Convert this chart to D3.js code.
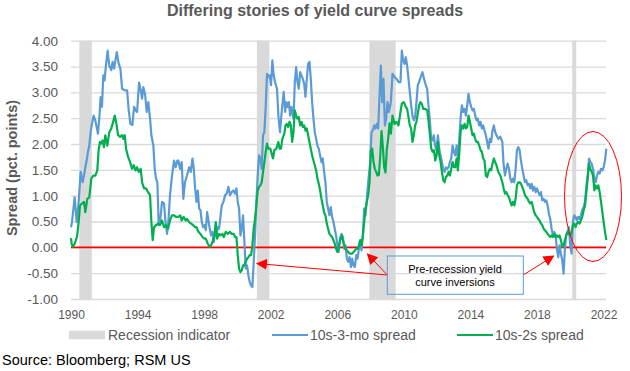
<!DOCTYPE html>
<html>
<head>
<meta charset="utf-8">
<script src="https://cdn.jsdelivr.net/npm/d3@7"></script>
<style>
  body { margin: 0; background: #fff; }
  svg { font-family: "Liberation Sans", Arial, sans-serif; }
</style>
</head>
<body>
<div id="chart"></div>
<script>
const svgWidth = 630,
      svgHeight = 371,
      margin = {top: 40.7, left: 71, bottom: 72, right: 24};

// year ticks and value ticks
const yearTicks = [1990, 1994, 1998, 2002, 2006, 2010, 2014, 2018, 2022];
const valueTicks = [-1, -0.5, 0, 0.5, 1, 1.5, 2, 2.5, 3, 3.5, 4];

// recessions (start, end as decimal years)
const recStart = [1990.5, 2001.17, 2007.93, 2020.12];
const recEnd   = [1991.25, 2001.92, 2009.51, 2020.36];

// 10s-3-mo spread (blue)
const blueT = [1990.0,1990.06,1990.22,1990.34,1990.46,1990.58,1990.7,1990.78,1990.86,1990.94,1991.02,1991.1,1991.18,1991.26,1991.36,1991.46,1991.54,1991.62,1991.7,1991.78,1991.86,1991.94,1992.02,1992.08,1992.2,1992.3,1992.42,1992.5,1992.59,1992.75,1992.87,1992.97,1993.07,1993.23,1993.37,1993.47,1993.57,1993.69,1993.79,1993.89,1993.97,1994.09,1994.19,1994.27,1994.35,1994.45,1994.55,1994.65,1994.75,1994.83,1994.95,1995.03,1995.11,1995.19,1995.27,1995.35,1995.47,1995.59,1995.67,1995.77,1995.85,1995.95,1996.07,1996.19,1996.29,1996.39,
  1996.45,1996.55,1996.65,1996.75,1996.85,1996.97,1997.1,1997.2,1997.3,1997.38,1997.46,1997.54,1997.62,1997.7,1997.78,1997.86,1997.94,1998.02,1998.1,1998.18,1998.26,1998.34,1998.42,1998.5,1998.58,1998.66,1998.74,1998.82,1998.9,1998.98,1999.06,1999.16,1999.26,1999.36,1999.46,1999.56,1999.66,1999.76,1999.86,1999.94,2000.02,2000.1,2000.18,2000.26,2000.34,2000.42,2000.5,2000.58,2000.66,2000.74,2000.82,2000.9,2000.98,2001.06,2001.14,2001.22,2001.3,2001.38,2001.46,2001.54,2001.62,2001.7,2001.78,2001.86,2001.94,2002.02,2002.1,2002.18,2002.26,2002.38,2002.46,2002.56,2002.66,2002.78,
  2002.87,2002.93,2003.01,2003.09,2003.17,2003.25,2003.37,2003.45,2003.53,2003.61,2003.69,2003.77,2003.85,2003.93,2004.01,2004.09,2004.17,2004.25,2004.33,2004.41,2004.49,2004.57,2004.65,2004.73,2004.81,2004.89,2004.97,2005.05,2005.13,2005.21,2005.29,2005.37,2005.45,2005.53,2005.61,2005.69,2005.77,2005.85,2005.93,2006.01,2006.09,2006.17,2006.26,2006.34,2006.42,2006.5,2006.58,2006.66,2006.74,2006.82,2006.9,2006.98,2007.06,2007.14,2007.22,2007.3,2007.38,2007.46,2007.54,2007.62,2007.7,2007.78,2007.86,2007.98,2008.06,2008.14,2008.22,2008.3,2008.38,2008.46,2008.54,2008.62,2008.7,2008.78,2008.86,2008.94,2009.02,2009.1,
  2009.22,2009.32,2009.44,2009.56,2009.68,2009.8,2009.88,2009.96,2010.04,2010.12,2010.2,2010.28,2010.36,2010.44,2010.52,2010.6,2010.68,2010.76,2010.84,2010.92,2011.02,2011.12,2011.22,2011.32,2011.4,2011.48,2011.56,2011.64,2011.72,2011.8,2011.88,2011.96,2012.05,2012.13,2012.21,2012.29,2012.37,2012.45,2012.53,2012.61,2012.69,2012.77,2012.85,2012.93,2013.01,2013.09,2013.17,2013.25,2013.33,2013.41,2013.49,2013.57,2013.65,2013.73,2013.81,2013.89,2013.97,2014.05,2014.13,2014.21,2014.29,2014.37,2014.45,2014.53,2014.61,2014.69,2014.77,2014.85,2014.93,2015.01,2015.09,2015.17,2015.25,2015.33,2015.41,2015.49,2015.57,2015.68,
  2015.8,2015.92,2016.0,2016.08,2016.16,2016.24,2016.32,2016.4,2016.48,2016.56,2016.64,2016.72,2016.8,2016.88,2016.96,2017.04,2017.12,2017.2,2017.28,2017.36,2017.44,2017.52,2017.6,2017.68,2017.76,2017.84,2017.92,2018.0,2018.08,2018.16,2018.24,2018.32,2018.4,2018.48,2018.56,2018.64,2018.72,2018.8,2018.88,2018.96,2019.04,2019.12,2019.2,2019.28,2019.36,2019.44,2019.52,2019.6,2019.68,2019.76,2019.84,2019.92,2020.0,2020.08,2020.16,2020.24,2020.32,2020.4,2020.48,2020.56,2020.64,2020.72,2020.81,2020.89,2020.97,2021.05,2021.13,2021.21,2021.29,2021.37,2021.45,2021.53,2021.61,2021.69,2021.77,2021.85,2021.93,2022.01,2022.09,2022.17];
const blueV = [0.39,0.49,0.97,0.49,0.88,1.46,1.26,1.39,1.55,1.68,1.85,1.97,2.23,2.39,2.55,2.46,2.33,2.2,2.49,2.91,2.72,3.33,3.23,3.46,3.81,3.52,3.43,3.59,3.46,3.78,3.55,3.46,3.07,3.04,3.04,2.65,2.39,2.37,2.72,2.65,2.62,3.19,3.04,2.88,3.1,2.97,2.62,2.81,2.49,2.17,1.97,1.52,1.33,1.26,0.43,0.49,0.88,0.85,0.52,0.26,0.49,1.01,1.39,1.68,1.55,1.68,
  1.68,1.52,1.65,0.94,1.26,1.39,1.55,1.46,1.72,1.52,1.14,0.88,1.1,0.75,0.72,0.49,0.39,0.43,0.33,0.68,0.52,0.36,0.23,0.3,0.1,0.3,0.23,0.39,0.36,0.59,0.81,0.88,1.01,1.04,1.17,1.01,1.07,1.1,1.04,1.14,0.88,0.75,0.23,0.36,0.62,0.1,-0.41,-0.35,-0.54,-0.67,-0.74,-0.77,-0.28,0.23,0.88,1.39,1.78,1.72,1.52,2.17,2.23,2.72,3.36,3.3,3.33,3.14,3.62,3.33,3.2,3.07,2.55,2.23,2.62,3.01,
  2.62,2.81,2.72,2.81,2.55,2.72,2.49,3.2,3.49,3.2,3.07,3.39,3.33,3.26,3.17,2.91,3.26,3.55,3.59,3.26,2.81,2.49,2.23,2.1,1.97,1.91,1.78,1.65,1.72,1.46,1.26,0.88,0.75,0.62,0.78,0.59,0.49,0.36,0.23,0.04,-0.09,0.17,0.26,0.2,-0.03,0.04,-0.22,-0.28,-0.19,-0.38,-0.22,-0.35,-0.38,-0.15,-0.22,-0.03,0.1,-0.06,0.23,0.75,0.62,0.94,1.26,1.65,2.23,2.26,2.36,2.3,2.39,2.3,2.94,3.52,2.81,3.26,2.36,2.49,2.81,2.62,
  2.81,3.36,3.3,3.26,3.2,3.2,3.81,3.62,3.55,3.68,3.52,3.26,3.01,2.75,2.55,2.46,2.52,2.81,3.14,3.2,3.3,3.39,3.26,3.14,3.07,2.75,2.49,2.1,2.07,2.17,1.97,1.88,2.17,1.91,1.78,1.65,1.52,1.46,1.55,1.52,1.55,1.65,1.72,1.97,1.85,1.78,1.97,1.72,2.1,2.49,2.75,2.62,2.68,2.55,2.75,2.97,2.81,2.72,2.65,2.68,2.55,2.46,2.49,2.36,2.43,2.3,2.36,2.26,2.17,2.04,1.91,2.1,2.04,2.26,2.36,2.23,2.17,2.1,
  2.14,2.04,1.59,1.39,1.52,1.62,1.52,1.33,1.26,1.33,1.26,1.52,1.88,1.94,1.88,1.68,1.52,1.39,1.26,1.3,1.2,1.23,1.14,1.23,1.1,1.17,1.07,1.14,1.07,1.01,1.07,0.91,0.94,0.88,0.91,0.81,0.65,0.55,0.36,0.23,0.3,0.23,-0.03,-0.19,0.04,-0.12,-0.25,-0.51,-0.03,0.23,0.3,0.39,0.04,-0.12,0.49,0.62,0.59,0.52,0.59,0.55,0.62,0.72,0.78,0.88,1.2,1.39,1.72,1.65,1.62,1.52,1.33,1.26,1.39,1.46,1.43,1.52,1.49,1.55,1.68,1.91];

// 10s-2s spread (green)
const greenT = [1990.0,1990.04,1990.12,1990.22,1990.36,1990.46,1990.54,1990.66,1990.78,1990.86,1990.98,1991.1,1991.22,1991.34,1991.46,1991.58,1991.66,1991.74,1991.82,1991.9,1991.98,1992.06,1992.18,1992.3,1992.42,1992.5,1992.63,1992.73,1992.83,1992.95,1993.07,1993.15,1993.23,1993.31,1993.43,1993.55,1993.67,1993.77,1993.87,1993.97,1994.07,1994.19,1994.27,1994.39,1994.51,1994.63,1994.75,1994.83,1994.91,1994.99,1995.11,1995.23,1995.35,1995.47,1995.59,1995.71,1995.83,1995.95,1996.07,1996.19,1996.31,
  1996.45,1996.57,1996.65,1996.77,1996.89,1996.97,1997.1,1997.22,1997.34,1997.46,1997.54,1997.66,1997.78,1997.9,1998.02,1998.1,1998.22,1998.34,1998.42,1998.54,1998.62,1998.7,1998.78,1998.9,1998.98,1999.1,1999.18,1999.3,1999.42,1999.54,1999.66,1999.78,1999.86,1999.94,2000.02,2000.1,2000.18,2000.26,2000.34,2000.42,2000.5,2000.58,2000.66,2000.74,2000.82,2000.9,2000.98,2001.06,2001.14,2001.22,2001.3,2001.38,2001.46,2001.54,2001.62,2001.7,2001.78,2001.86,2001.98,2002.06,2002.14,2002.22,2002.34,2002.46,2002.54,2002.62,2002.7,2002.82,2002.89,
  2002.97,2003.05,2003.13,2003.21,2003.29,2003.37,2003.45,2003.53,2003.61,2003.69,2003.77,2003.85,2003.93,2004.01,2004.09,2004.17,2004.25,2004.33,2004.41,2004.49,2004.57,2004.65,2004.73,2004.81,2004.89,2004.97,2005.05,2005.13,2005.21,2005.29,2005.37,2005.45,2005.53,2005.61,2005.69,2005.77,2005.85,2005.93,2006.01,2006.09,2006.17,2006.26,2006.34,2006.42,2006.5,2006.58,2006.66,2006.74,2006.82,2006.9,2006.98,2007.06,2007.14,2007.22,2007.3,2007.38,2007.46,2007.54,2007.62,2007.7,2007.78,2007.86,2007.94,2008.02,2008.1,2008.18,2008.26,2008.34,2008.42,2008.5,2008.58,2008.66,2008.74,2008.82,2008.9,2008.98,2009.06,2009.14,2009.22,2009.32,
  2009.44,2009.56,2009.68,2009.8,2009.88,2010.0,2010.12,2010.2,2010.28,2010.36,2010.44,2010.52,2010.6,2010.68,2010.76,2010.84,2010.92,2011.0,2011.08,2011.17,2011.29,2011.41,2011.49,2011.57,2011.65,2011.73,2011.81,2011.89,2011.97,2012.05,2012.13,2012.21,2012.29,2012.37,2012.45,2012.53,2012.61,2012.69,2012.77,2012.85,2012.93,2013.01,2013.09,2013.17,2013.25,2013.33,2013.41,2013.49,2013.57,2013.65,2013.73,2013.81,2013.89,2013.97,2014.05,2014.13,2014.21,2014.29,2014.37,2014.45,2014.53,2014.61,2014.69,2014.77,2014.85,2014.93,2015.01,2015.09,2015.17,2015.25,2015.33,2015.41,2015.49,2015.57,2015.68,
  2015.8,2015.92,2016.0,2016.08,2016.16,2016.24,2016.32,2016.4,2016.48,2016.56,2016.64,2016.72,2016.8,2016.88,2016.96,2017.04,2017.12,2017.2,2017.28,2017.36,2017.44,2017.52,2017.6,2017.68,2017.76,2017.84,2017.92,2018.0,2018.08,2018.16,2018.24,2018.32,2018.4,2018.48,2018.56,2018.64,2018.72,2018.8,2018.88,2018.96,2019.04,2019.12,2019.2,2019.28,2019.36,2019.44,2019.52,2019.6,2019.68,2019.76,2019.84,2019.92,2020.0,2020.08,2020.16,2020.24,2020.32,2020.4,2020.48,2020.56,2020.64,2020.72,2020.81,2020.89,2020.97,2021.05,2021.13,2021.21,2021.29,2021.37,2021.45,2021.53,2021.61,2021.69,2021.77,2021.85,2021.93,2022.01,2022.09,2022.17];
const greenV = [0.18,0.07,0.01,0.07,0.2,0.49,0.81,0.85,0.88,0.68,0.94,0.97,1.33,1.39,1.39,1.49,1.88,2.04,2.01,2.07,1.94,2.17,1.97,2.23,2.3,2.39,2.55,2.39,2.17,2.14,2.17,2.1,2.17,1.91,1.75,1.65,1.52,1.59,1.49,1.55,1.46,1.52,1.26,1.14,1.14,1.07,1.01,0.49,0.14,0.39,0.43,0.46,0.43,0.52,0.39,0.43,0.36,0.52,0.62,0.62,0.59,
  0.59,0.62,0.52,0.59,0.52,0.55,0.49,0.46,0.43,0.39,0.39,0.3,0.26,0.2,0.17,0.17,0.07,0.01,0.04,0.14,0.23,0.49,0.17,0.26,0.23,0.26,0.2,0.3,0.26,0.3,0.26,0.26,0.2,0.2,-0.15,-0.41,-0.48,-0.45,-0.35,-0.35,-0.28,-0.22,-0.19,-0.15,-0.15,0.04,0.36,0.55,0.81,1.1,1.17,1.2,1.26,1.46,1.65,1.85,2.01,1.91,1.91,1.81,1.72,1.88,1.91,2.04,1.91,1.91,2.1,2.2,2.36,
  2.39,2.33,2.43,2.36,2.04,2.23,2.65,2.55,2.49,2.52,2.36,2.43,2.33,2.36,2.26,2.3,2.17,2.04,1.91,1.78,1.68,1.59,1.49,1.33,1.23,1.1,0.94,0.81,0.68,0.62,0.46,0.36,0.26,0.23,0.2,0.14,0.07,-0.03,-0.09,0.01,0.14,0.23,0.14,0.04,-0.03,-0.06,-0.09,-0.12,-0.12,-0.12,-0.09,-0.06,-0.03,-0.03,0.04,0.14,0.04,0.23,0.49,0.75,0.88,1.01,1.26,1.88,1.91,1.65,1.52,1.46,1.39,1.4,1.75,2.25,1.95,1.55,1.45,1.9,2.1,2.4,2.2,2.55,
  2.39,2.43,2.36,2.62,2.78,2.81,2.72,2.68,2.52,2.36,2.3,2.04,2.17,2.36,2.43,2.59,2.75,2.81,2.78,2.68,2.68,2.65,2.43,2.17,1.91,1.85,1.88,1.68,1.78,2.04,1.78,1.65,1.46,1.3,1.26,1.36,1.39,1.46,1.39,1.52,1.65,1.55,1.55,1.72,1.49,1.81,2.23,2.36,2.3,2.39,2.3,2.33,2.55,2.43,2.3,2.17,2.2,2.1,2.04,2.04,1.97,1.88,1.85,1.72,1.68,1.39,1.36,1.46,1.52,1.49,1.62,1.72,1.65,1.59,1.46,
  1.39,1.26,1.14,1.04,1.07,1.01,0.97,0.88,0.81,0.88,0.81,0.94,1.2,1.26,1.26,1.23,1.17,1.1,1.01,0.97,0.94,0.88,0.85,0.88,0.78,0.68,0.62,0.59,0.55,0.52,0.46,0.43,0.36,0.33,0.3,0.26,0.23,0.2,0.23,0.2,0.26,0.2,0.23,0.2,0.23,0.14,0.01,0.04,0.14,0.23,0.3,0.26,0.23,0.3,0.43,0.46,0.39,0.46,0.49,0.46,0.52,0.59,0.72,0.81,1.07,1.33,1.62,1.52,1.46,1.39,1.1,1.2,1.14,1.2,1.07,0.88,0.68,0.49,0.3,0.14];

const textGray = "#595959";

let x = d3.scaleLinear().domain([1990, 2022]).range([71, 603.5]),
    y = d3.scaleLinear().domain([-1, 4]).range([299, 40.7]);
const plotRight = 606;

let svg = d3.select("#chart")
  .append("svg")
  .attr("width", svgWidth)
  .attr("height", svgHeight);

// title
svg.append("text")
  .attr("x", 315)
  .attr("y", 15.5)
  .attr("text-anchor", "middle")
  .style("font-size", "16px")
  .style("font-weight", "bold")
  .style("fill", textGray)
  .text("Differing stories of yield curve spreads");

// gridlines + y labels
let yAxis = svg.append("g")
  .attr("transform", "translate(" + x.range()[0] + ",0)")
  .call(d3.axisLeft(y)
    .tickValues(valueTicks)
    .tickSize(-(plotRight - x.range()[0]))
    .tickPadding(13)
    .tickFormat(d => d.toFixed(2)));
yAxis.select(".domain").remove();
yAxis.selectAll(".tick line").attr("stroke", "#d9d9d9").attr("stroke-width", 1.3);
yAxis.selectAll(".tick text")
  .style("font-size", "13.5px")
  .style("font-family", "Liberation Sans, Arial, sans-serif")
  .attr("fill", textGray);

// recession shading
svg.append("g").selectAll("rect")
  .data(d3.zip(recStart, recEnd))
  .enter()
  .append("rect")
  .attr("x", d => x(d[0]))
  .attr("width", d => x(d[1]) - x(d[0]))
  .attr("y", y(4))
  .attr("height", y(-1) - y(4))
  .attr("fill", "#d9d9d9");

// x labels
let xAxis = svg.append("g")
  .attr("transform", "translate(0," + y(-1) + ")")
  .call(d3.axisBottom(x)
    .tickValues(yearTicks)
    .tickSize(0)
    .tickPadding(11)
    .tickFormat(d3.format("d")));
xAxis.select(".domain").remove();
xAxis.selectAll(".tick text")
  .style("font-size", "12px")
  .style("font-family", "Liberation Sans, Arial, sans-serif")
  .attr("fill", textGray);

// zero line
svg.append("line")
  .attr("x1", x.range()[0])
  .attr("x2", plotRight)
  .attr("y1", y(0))
  .attr("y2", y(0))
  .attr("stroke", "#ff0000")
  .attr("stroke-width", 1.6);

let line = d3.line().x(d => x(d[0])).y(d => y(d[1]));

svg.append("path")
  .datum(d3.zip(blueT, blueV))
  .attr("d", line)
  .attr("fill", "none")
  .attr("stroke", "#5b9bd5")
  .attr("stroke-width", 2.2)
  .attr("stroke-linejoin", "round");

svg.append("path")
  .datum(d3.zip(greenT, greenV))
  .attr("d", line)
  .attr("fill", "none")
  .attr("stroke", "#00b050")
  .attr("stroke-width", 2.2)
  .attr("stroke-linejoin", "round");

// y axis title
svg.append("text")
  .attr("transform", "translate(17," + 168 + ")rotate(-90)")
  .attr("text-anchor", "middle")
  .style("font-size", "14.5px")
  .style("font-weight", "bold")
  .style("fill", textGray)
  .text("Spread (pct. points)");

// annotations
let defs = svg.append("defs");
defs.append("marker")
  .attr("id", "arrow")
  .attr("viewBox", "0 0 10 10")
  .attr("refX", 9)
  .attr("refY", 5)
  .attr("markerWidth", 11)
  .attr("markerHeight", 11)
  .attr("markerUnits", "userSpaceOnUse")
  .attr("orient", "auto")
  .append("path")
  .attr("d", "M0,0L10,5L0,10Z")
  .attr("fill", "#ff0000");

let arrows = [[387.3, 275, 257, 263.5], [387.3, 275, 367.5, 254], [523.3, 275, 553.5, 256]];
svg.append("g").selectAll("line")
  .data(arrows)
  .enter()
  .append("line")
  .attr("x1", d => d[0]).attr("y1", d => d[1])
  .attr("x2", d => d[2]).attr("y2", d => d[3])
  .attr("stroke", "#ff0000")
  .attr("stroke-width", 1)
  .attr("marker-end", "url(#arrow)");

svg.append("rect")
  .attr("x", 387.3).attr("y", 256)
  .attr("width", 136).attr("height", 38.3)
  .attr("fill", "none")
  .attr("stroke", "#5b9bd5")
  .attr("stroke-width", 1);

svg.append("text")
  .attr("x", 455).attr("y", 272.5)
  .attr("text-anchor", "middle")
  .style("font-size", "11px")
  .text("Pre-recession yield");
svg.append("text")
  .attr("x", 455).attr("y", 285.5)
  .attr("text-anchor", "middle")
  .style("font-size", "11px")
  .text("curve inversions");

// ellipse around recent spreads
svg.append("ellipse")
  .attr("cx", 593).attr("cy", 196.5)
  .attr("rx", 28.5).attr("ry", 65)
  .attr("fill", "none")
  .attr("stroke", "#ff0000")
  .attr("stroke-width", 1);

// legend
let legend = svg.append("g").style("font-size", "14px").style("fill", textGray);
legend.append("rect")
  .attr("x", 69).attr("y", 330.7).attr("width", 36).attr("height", 8.6)
  .attr("fill", "#d9d9d9");
legend.append("text").attr("x", 108).attr("y", 339.5).text("Recession indicator");
legend.append("line")
  .attr("x1", 272).attr("x2", 308).attr("y1", 335).attr("y2", 335)
  .attr("stroke", "#5b9bd5").attr("stroke-width", 2.2);
legend.append("text").attr("x", 310).attr("y", 339.5).text("10s-3-mo spread");
legend.append("line")
  .attr("x1", 457).attr("x2", 493).attr("y1", 335).attr("y2", 335)
  .attr("stroke", "#00b050").attr("stroke-width", 2.2);
legend.append("text").attr("x", 495).attr("y", 339.5).text("10s-2s spread");

// source
svg.append("text")
  .attr("x", 2).attr("y", 364.5)
  .style("font-size", "14.5px")
  .style("fill", "#000")
  .text("Source: Bloomberg; RSM US");
</script>
</body>
</html>
